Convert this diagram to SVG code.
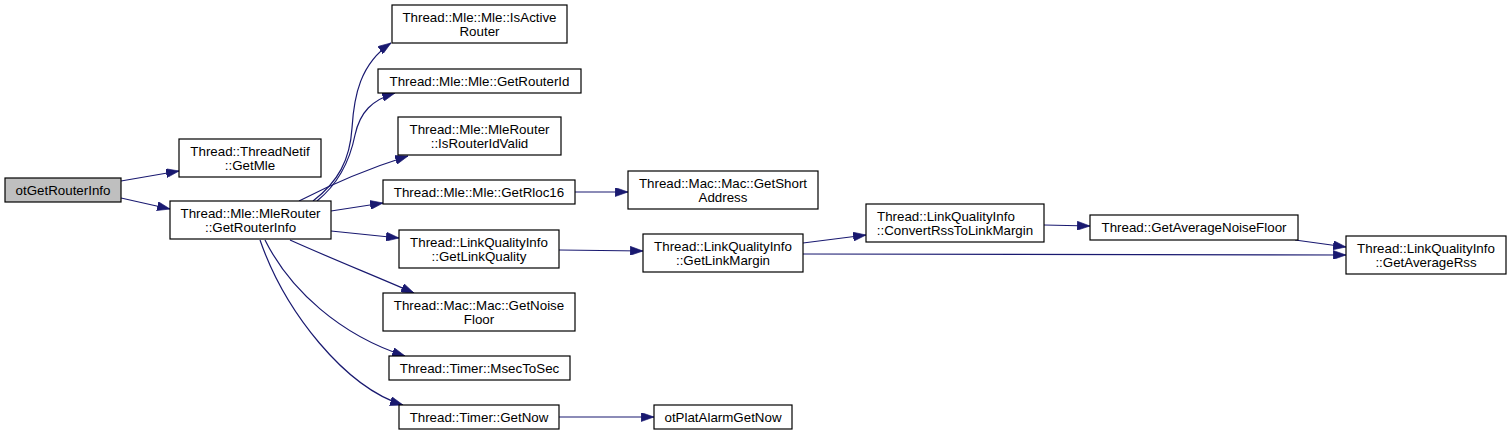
<svg xmlns="http://www.w3.org/2000/svg" width="1510" height="435" viewBox="0 0 1510 435">
<defs>
<style>
.n rect{fill:#fff;stroke:#000;stroke-width:1.2}
.n.root rect{fill:#bfbfbf}
.n text{font-family:"Liberation Sans",Arial,Helvetica,sans-serif;font-size:13.33px;fill:#000;text-anchor:middle}
.n text.s{text-anchor:start}
.e path{fill:none;stroke:#191970;stroke-width:1.2;marker-end:url(#ah)}
</style>
<marker id="ah" viewBox="0 0 10 7" refX="10" refY="3.5" markerUnits="userSpaceOnUse" markerWidth="13" markerHeight="9" orient="auto">
<path d="M0,0 L10,3.5 L0,7 z" fill="#191970" stroke="#191970" stroke-width="0.5"/>
</marker>
</defs>
<rect width="1510" height="435" fill="#fff"/>
<g id="edges" class="e">
<path d="M121,181 L179,171"/>
<path d="M121,198 L170,209"/>
<path d="M313,201 C338,182 350,160 352,128 C354,96 360,64 391,43"/>
<path d="M317,201 C338,184 350,160 355,135 C360,112 372,100 395,93"/>
<path d="M299,201 C330,185 370,168 408,156"/>
<path d="M331,211 L383,203"/>
<path d="M331,231 L399,238"/>
<path d="M290,240 C330,258 375,276 414,293"/>
<path d="M265,240 C290,290 340,335 405,356"/>
<path d="M260,240 C285,312 345,387 403,405"/>
<path d="M575,192 L628,192"/>
<path d="M559,250 L643,251"/>
<path d="M559,417 L654,417"/>
<path d="M803,243 L866,235"/>
<path d="M803,254 L1346,255"/>
<path d="M1044,225 L1090,226"/>
<path d="M1295,240 L1346,247"/>
</g>
<g id="otGetRouterInfo" class="n root"><rect x="5" y="178" width="116" height="24"/><text x="63" y="195">otGetRouterInfo</text></g>
<g id="ThreadNetif_GetMle" class="n"><rect x="179" y="139" width="142" height="38"/><text x="250" y="156">Thread::ThreadNetif</text><text x="250" y="170">::GetMle</text></g>
<g id="MleRouter_GetRouterInfo" class="n"><rect x="170" y="201" width="161" height="38"/><text x="250.5" y="218">Thread::Mle::MleRouter</text><text x="250.5" y="232">::GetRouterInfo</text></g>
<g id="Mle_IsActiveRouter" class="n"><rect x="392" y="5" width="175" height="38"/><text x="479.5" y="22">Thread::Mle::Mle::IsActive</text><text x="479.5" y="36">Router</text></g>
<g id="Mle_GetRouterId" class="n"><rect x="378" y="69" width="203" height="24"/><text x="479.5" y="86">Thread::Mle::Mle::GetRouterId</text></g>
<g id="MleRouter_IsRouterIdValid" class="n"><rect x="398" y="117" width="163" height="38"/><text x="479.5" y="134">Thread::Mle::MleRouter</text><text x="479.5" y="148">::IsRouterIdValid</text></g>
<g id="Mle_GetRloc16" class="n"><rect x="383" y="180" width="192" height="24"/><text x="479" y="197">Thread::Mle::Mle::GetRloc16</text></g>
<g id="LinkQualityInfo_GetLinkQuality" class="n"><rect x="399" y="230" width="160" height="38"/><text x="479" y="247">Thread::LinkQualityInfo</text><text x="479" y="261">::GetLinkQuality</text></g>
<g id="Mac_GetNoiseFloor" class="n"><rect x="383" y="293" width="192" height="38"/><text x="479" y="310">Thread::Mac::Mac::GetNoise</text><text x="479" y="324">Floor</text></g>
<g id="Timer_MsecToSec" class="n"><rect x="389" y="356" width="181" height="24"/><text x="479.5" y="373">Thread::Timer::MsecToSec</text></g>
<g id="Timer_GetNow" class="n"><rect x="399" y="405" width="160" height="24"/><text x="479" y="422">Thread::Timer::GetNow</text></g>
<g id="Mac_GetShortAddress" class="n"><rect x="628" y="171" width="190" height="38"/><text x="723" y="188">Thread::Mac::Mac::GetShort</text><text x="723" y="202">Address</text></g>
<g id="LinkQualityInfo_GetLinkMargin" class="n"><rect x="643" y="234" width="160" height="38"/><text x="723" y="251">Thread::LinkQualityInfo</text><text x="723" y="265">::GetLinkMargin</text></g>
<g id="otPlatAlarmGetNow" class="n"><rect x="654" y="405" width="138" height="24"/><text x="723" y="422">otPlatAlarmGetNow</text></g>
<g id="LinkQualityInfo_ConvertRssToLinkMargin" class="n"><rect x="866" y="204" width="178" height="38"/><text class="s" x="877" y="221">Thread::LinkQualityInfo</text><text x="955" y="235">::ConvertRssToLinkMargin</text></g>
<g id="GetAverageNoiseFloor" class="n"><rect x="1090" y="215" width="208" height="25"/><text x="1194" y="232">Thread::GetAverageNoiseFloor</text></g>
<g id="LinkQualityInfo_GetAverageRss" class="n"><rect x="1346" y="236" width="160" height="38"/><text x="1426" y="253">Thread::LinkQualityInfo</text><text x="1426" y="267">::GetAverageRss</text></g>
</svg>
